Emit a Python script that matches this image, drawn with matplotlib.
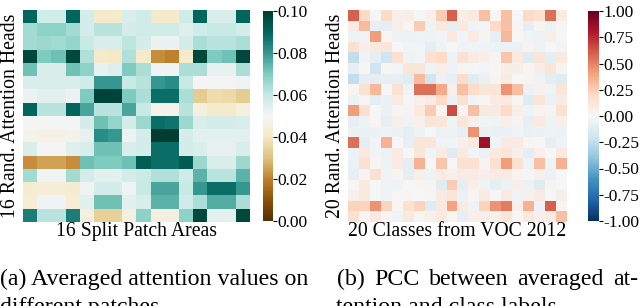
import matplotlib
import matplotlib.pyplot as plt
import numpy as np

matplotlib.use("Agg")

plt.rcParams["font.family"] = ["Liberation Serif", "DejaVu Serif"]
plt.rcParams["axes.unicode_minus"] = False

# averaged attention per head (rows) and patch area (cols)
attn_rows = [
    [0.090, 0.058, 0.058, 0.090, 0.057, 0.042, 0.042, 0.056, 0.058, 0.042, 0.042, 0.058, 0.090, 0.056, 0.056, 0.090],
    [0.065, 0.068, 0.068, 0.065, 0.057, 0.062, 0.062, 0.057, 0.058, 0.058, 0.058, 0.055, 0.058, 0.060, 0.060, 0.057],
    [0.065, 0.066, 0.065, 0.067, 0.060, 0.056, 0.056, 0.061, 0.057, 0.052, 0.052, 0.057, 0.064, 0.062, 0.062, 0.064],
    [0.097, 0.070, 0.072, 0.097, 0.063, 0.042, 0.041, 0.063, 0.042, 0.022, 0.020, 0.042, 0.097, 0.070, 0.072, 0.097],
    [0.072, 0.056, 0.056, 0.072, 0.068, 0.053, 0.055, 0.070, 0.064, 0.051, 0.051, 0.064, 0.064, 0.053, 0.053, 0.064],
    [0.056, 0.056, 0.056, 0.056, 0.058, 0.080, 0.080, 0.060, 0.062, 0.080, 0.082, 0.060, 0.050, 0.050, 0.050, 0.051],
    [0.052, 0.054, 0.054, 0.052, 0.070, 0.098, 0.098, 0.070, 0.064, 0.088, 0.088, 0.064, 0.033, 0.037, 0.036, 0.033],
    [0.090, 0.062, 0.062, 0.090, 0.077, 0.062, 0.062, 0.077, 0.060, 0.048, 0.048, 0.062, 0.046, 0.042, 0.042, 0.046],
    [0.050, 0.050, 0.050, 0.050, 0.057, 0.072, 0.067, 0.057, 0.066, 0.088, 0.087, 0.066, 0.056, 0.057, 0.057, 0.056],
    [0.048, 0.047, 0.047, 0.048, 0.053, 0.082, 0.080, 0.052, 0.057, 0.100, 0.100, 0.057, 0.054, 0.054, 0.054, 0.054],
    [0.056, 0.050, 0.050, 0.055, 0.056, 0.072, 0.072, 0.056, 0.057, 0.088, 0.088, 0.057, 0.056, 0.053, 0.053, 0.056],
    [0.022, 0.025, 0.025, 0.022, 0.072, 0.070, 0.070, 0.072, 0.092, 0.088, 0.088, 0.092, 0.066, 0.056, 0.056, 0.066],
    [0.065, 0.051, 0.051, 0.065, 0.057, 0.054, 0.054, 0.057, 0.059, 0.063, 0.063, 0.058, 0.075, 0.062, 0.062, 0.075],
    [0.043, 0.044, 0.044, 0.043, 0.051, 0.057, 0.057, 0.051, 0.060, 0.077, 0.077, 0.060, 0.080, 0.088, 0.088, 0.080],
    [0.044, 0.051, 0.051, 0.044, 0.054, 0.072, 0.072, 0.054, 0.056, 0.075, 0.075, 0.058, 0.064, 0.076, 0.076, 0.064],
    [0.085, 0.062, 0.062, 0.085, 0.046, 0.034, 0.034, 0.046, 0.068, 0.046, 0.046, 0.068, 0.097, 0.054, 0.054, 0.097],
]

# PCC between head attention (rows) and VOC class labels (cols)
pcc_rows = [
    [0.60, 0.20, -0.02, 0.20, 0.05, 0.07, 0.00, 0.05, 0.25, 0.60, 0.06, 0.10, 0.30, 0.02, 0.30, 0.00, 0.20, 0.15, 0.55, 0.08],
    [0.08, 0.32, -0.08, -0.10, 0.06, 0.02, 0.25, -0.05, 0.10, -0.08, 0.10, -0.04, -0.03, 0.20, 0.30, 0.02, -0.10, 0.02, -0.05, 0.03],
    [-0.05, -0.04, 0.42, 0.02, -0.05, -0.05, -0.04, -0.05, -0.03, 0.10, -0.03, 0.08, 0.03, -0.08, 0.33, 0.00, -0.04, -0.05, 0.06, 0.00],
    [0.15, 0.05, 0.10, 0.12, 0.00, -0.03, -0.03, -0.10, -0.04, 0.00, -0.04, -0.04, -0.04, -0.06, -0.06, -0.06, 0.03, -0.05, 0.00, -0.03],
    [-0.25, -0.04, -0.10, -0.20, 0.15, -0.04, -0.03, 0.15, 0.20, -0.05, 0.15, 0.08, 0.05, 0.03, 0.28, 0.10, -0.12, 0.12, -0.10, 0.10],
    [-0.08, 0.02, -0.20, 0.02, -0.03, 0.12, 0.12, -0.04, 0.06, -0.05, 0.03, -0.02, -0.03, 0.02, 0.06, 0.06, 0.02, 0.06, 0.12, 0.03],
    [-0.25, -0.10, -0.10, -0.08, -0.08, -0.12, 0.32, -0.18, -0.06, -0.08, 0.18, -0.12, -0.07, 0.03, 0.08, 0.00, 0.03, -0.04, -0.10, -0.12],
    [0.02, 0.15, 0.33, 0.00, 0.15, -0.04, 0.55, 0.55, 0.38, 0.05, 0.30, 0.18, 0.12, 0.12, 0.45, 0.30, -0.06, 0.04, -0.04, 0.12],
    [-0.05, 0.02, -0.10, -0.06, 0.08, -0.02, 0.05, 0.08, 0.20, -0.06, 0.15, -0.03, 0.02, 0.08, 0.10, 0.02, -0.12, 0.12, -0.06, 0.08],
    [0.42, 0.15, 0.00, -0.06, 0.02, 0.03, 0.10, 0.25, 0.02, 0.65, 0.02, 0.30, 0.10, 0.10, 0.20, 0.05, -0.04, 0.03, 0.03, 0.15],
    [-0.08, -0.05, 0.02, -0.08, 0.05, -0.04, 0.04, 0.12, 0.12, -0.04, 0.12, 0.05, -0.03, -0.04, 0.05, 0.03, -0.08, 0.10, -0.04, 0.05],
    [-0.06, -0.06, -0.06, -0.05, -0.06, -0.10, -0.05, 0.00, -0.06, -0.05, -0.08, 0.45, -0.06, -0.07, -0.06, -0.04, -0.07, -0.06, -0.05, -0.06],
    [0.55, -0.10, -0.03, 0.35, 0.00, -0.08, 0.12, 0.12, -0.04, -0.03, 0.05, 0.10, 0.85, -0.04, 0.08, 0.08, 0.02, 0.00, -0.08, -0.04],
    [-0.06, 0.10, -0.03, -0.06, 0.08, 0.00, 0.12, -0.04, 0.08, -0.12, 0.10, -0.03, -0.06, 0.10, 0.12, 0.05, -0.10, 0.05, 0.00, 0.10],
    [-0.06, 0.15, 0.02, -0.05, 0.08, -0.10, 0.35, 0.00, 0.28, 0.00, 0.15, 0.15, 0.03, 0.15, 0.42, 0.15, -0.04, 0.30, -0.04, 0.35],
    [-0.08, 0.03, 0.15, -0.04, 0.03, -0.10, 0.05, -0.05, 0.08, 0.05, 0.08, 0.08, 0.05, 0.08, 0.08, 0.03, -0.02, 0.05, -0.06, 0.00],
    [0.02, 0.10, 0.00, -0.04, -0.04, 0.00, 0.02, 0.03, -0.12, 0.25, -0.10, 0.05, -0.04, -0.10, -0.06, 0.05, -0.05, -0.12, 0.03, 0.00],
    [0.05, 0.10, 0.00, -0.04, 0.00, 0.02, 0.00, 0.02, 0.08, 0.12, -0.06, 0.02, 0.08, 0.00, 0.08, -0.04, 0.05, 0.08, 0.00, 0.06],
    [0.22, 0.22, 0.45, 0.22, 0.02, 0.15, 0.22, -0.12, 0.10, 0.40, 0.08, -0.04, 0.22, 0.45, 0.52, 0.05, 0.35, -0.05, 0.60, 0.02],
    [0.15, 0.02, 0.10, 0.02, -0.04, 0.10, 0.02, 0.05, 0.10, 0.02, -0.08, 0.05, 0.05, 0.05, 0.12, 0.02, 0.10, 0.05, 0.08, 0.30],
]

attn_ticks = [0.0, 0.02, 0.04, 0.06, 0.08, 0.10]
pcc_ticks = [-1.0, -0.75, -0.5, -0.25, 0.0, 0.25, 0.5, 0.75, 1.0]

caption_a = ["(a) Averaged attention values on", "different patches"]
caption_b = ["(b) PCC between averaged at-", "tention and class labels"]

W, H = 640, 306
CAP_SIZE = 17.2
LABEL_SIZE = 14.2


def px_axes(fig, x0, y0, x1, y1):
    # pixel box (top-left origin) -> figure axes
    return fig.add_axes([x0 / W, 1 - y1 / H, (x1 - x0) / W, (y1 - y0) / H])


def heatmap(fig, box, cbox, data, cmap, vmin, vmax, ticks, xlabel, ylabel):
    ax = px_axes(fig, *box)
    im = ax.imshow(np.array(data), cmap=cmap, vmin=vmin, vmax=vmax,
                   aspect="auto", interpolation="nearest")
    ax.set_xticks([])
    ax.set_yticks([])
    for s in ax.spines.values():
        s.set_visible(False)
    ax.set_xlabel(xlabel, fontsize=LABEL_SIZE, labelpad=0)
    ax.set_ylabel(ylabel, fontsize=LABEL_SIZE, labelpad=2)

    cax = px_axes(fig, *cbox)
    cb = fig.colorbar(im, cax=cax, ticks=ticks, format="%.2f")
    cb.outline.set_visible(False)
    cax.tick_params(labelsize=12.5, length=3, width=0.8, pad=0)
    return ax


def justify(fig, text, x0, x1, y, size):
    # place words so the line runs from x0 to x1 (pixels)
    words = text.split()
    r = fig.canvas.get_renderer()
    objs = [fig.text(0, 1 - y / H, w, fontsize=size, va="baseline") for w in words]
    widths = [o.get_window_extent(r).width for o in objs]
    gap = (x1 - x0 - sum(widths)) / (len(words) - 1)
    x = x0
    for o, w in zip(objs, widths):
        o.set_x(x / W)
        x += w + gap


def main():
    fig = plt.figure(figsize=(6.4, 3.06), dpi=100)

    heatmap(fig, (23, 10, 250, 222), (263, 11, 273, 221), attn_rows, "BrBG",
            0.0, 0.1, attn_ticks, "16 Split Patch Areas", "16 Rand. Attention Heads")
    heatmap(fig, (348, 10, 567, 222), (588, 11, 599, 221), pcc_rows, "RdBu_r",
            -1.0, 1.0, pcc_ticks, "20 Classes from VOC 2012", "20 Rand. Attention Heads")

    fig.text(0, 1 - 285 / H, caption_a[0], fontsize=CAP_SIZE, va="baseline")
    fig.text(0, 1 - 313 / H, caption_a[1], fontsize=CAP_SIZE, va="baseline")
    justify(fig, caption_b[0], 337, 638, 285, CAP_SIZE)
    fig.text(336 / W, 1 - 313 / H, caption_b[1], fontsize=CAP_SIZE, va="baseline")

    fig.savefig("out.png", dpi=100)
    plt.close(fig)


if __name__ == "__main__":
    main()
